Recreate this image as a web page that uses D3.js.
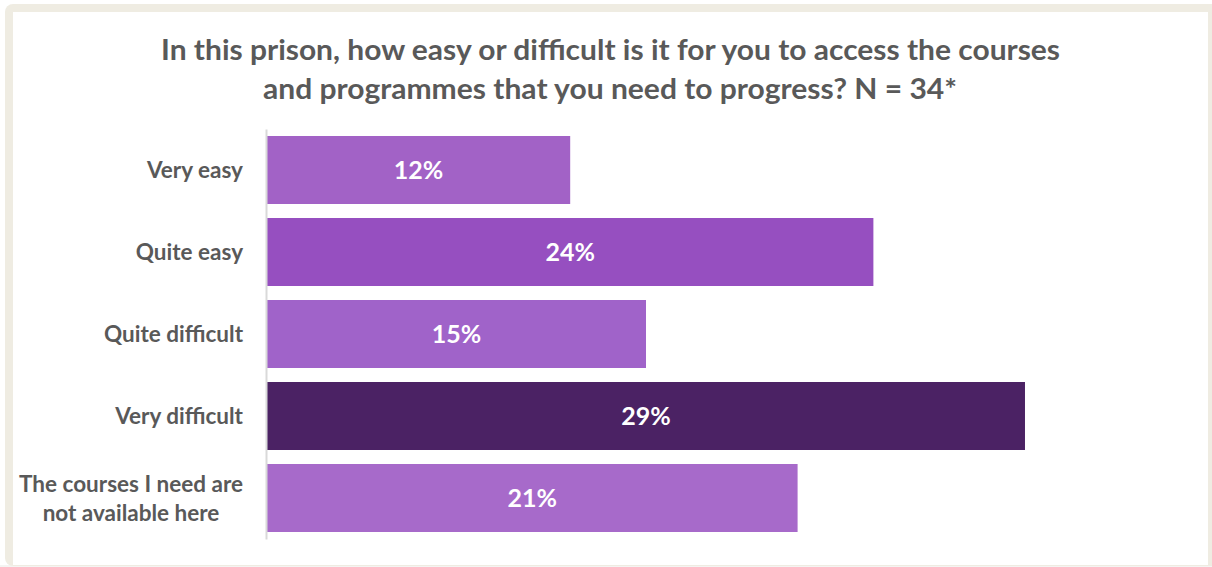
<!DOCTYPE html>
<html>
<head>
<meta charset="utf-8">
<script src="https://cdn.jsdelivr.net/npm/d3@7"></script>
<style>
  html, body { margin: 0; padding: 0; background: #ffffff; }
  svg { display: block; }
  text { font-family: Lato, "Open Sans", sans-serif; font-weight: 700; }
</style>
</head>
<body>
<svg id="chart" width="1212" height="567"></svg>
<script>
// Survey responses (N = 34)
const categories = [
  "Very easy",
  "Quite easy",
  "Quite difficult",
  "Very difficult",
  "The courses I need are\nnot available here"
];
const counts = [4, 8, 5, 10, 7];
const total = 34;
const shares = counts.map(c => c / total);
const barColors = ["#a262c6", "#964fc0", "#a063c9", "#4b2264", "#a76aca"];
const titleLines = [
  "In this prison, how easy or difficult is it for you to access the courses",
  "and programmes that you need to progress? N = 34*"
];

const W = 1212, H = 567;
const svg = d3.select("#chart");

// framed panel
svg.append("rect").attr("x", 0).attr("y", H - 2).attr("width", W).attr("height", 2).attr("fill", "#f4f4f2");
svg.append("rect")
  .attr("x", 5).attr("y", 4).attr("width", 1230).attr("height", 562)
  .attr("rx", 8).attr("fill", "#efece2");
svg.append("rect")
  .attr("x", 13).attr("y", 12).attr("width", 1195).attr("height", 553)
  .attr("fill", "#ffffff");

// title
const titleWidths = [899, 694];
const titleBase = [60, 99];
svg.append("g").selectAll("text").data(titleLines).join("text")
  .attr("x", (d, i) => i === 0 ? 161 : 263)
  .attr("y", (d, i) => titleBase[i])
  .attr("textLength", (d, i) => titleWidths[i])
  .attr("lengthAdjust", "spacingAndGlyphs")
  .attr("font-size", 29)
  .attr("fill", "#595959")
  .text(d => d);

// scales
const x = d3.scaleLinear().domain([0, 0.35]).range([267, 1169]);
const y = d3.scaleBand()
  .domain(categories)
  .range([129, 539])
  .paddingInner(14 / 82)
  .paddingOuter(7 / 82);

// bars
svg.append("g").selectAll("rect").data(shares).join("rect")
  .attr("x", x(0))
  .attr("y", (d, i) => y(categories[i]))
  .attr("width", d => x(d) - x(0))
  .attr("height", y.bandwidth())
  .attr("fill", (d, i) => barColors[i]);

// value labels
const fmt = d3.format(".0%");
svg.append("g").selectAll("text").data(shares).join("text")
  .attr("x", d => (x(0) + x(d)) / 2)
  .attr("y", (d, i) => y(categories[i]) + y.bandwidth() / 2)
  .attr("dy", "0.36em")
  .attr("text-anchor", "middle")
  .attr("font-size", 25)
  .attr("fill", "#ffffff")
  .text(d => fmt(d));

// category axis
const axis = svg.append("g")
  .attr("transform", `translate(${x(0) - 1},0)`)
  .call(d3.axisLeft(y).tickSize(0).tickFormat(""));
axis.select(".domain").attr("stroke", "#d9d9d9").attr("stroke-width", 2);

// category labels (multi-line labels are centred on their widest line)
const labelG = svg.append("g");
categories.forEach(cat => {
  const lines = cat.split("\n");
  const cy = y(cat) + y.bandwidth() / 2;
  const lh = 29;
  const t = labelG.append("text")
    .attr("font-size", 22.5)
    .attr("fill", "#595959");
  lines.forEach((ln, j) => {
    t.append("tspan")
      .attr("y", cy + (j - (lines.length - 1) / 2) * lh)
      .attr("dy", "0.36em")
      .text(ln);
  });
  const right = 243;
  if (lines.length === 1) {
    t.selectAll("tspan").attr("x", right).attr("text-anchor", "end");
  } else {
    const widths = [];
    t.selectAll("tspan").each(function () { widths.push(this.getComputedTextLength()); });
    const cx = right - d3.max(widths) / 2;
    t.selectAll("tspan").attr("x", cx).attr("text-anchor", "middle");
  }
});
</script>
</body>
</html>
